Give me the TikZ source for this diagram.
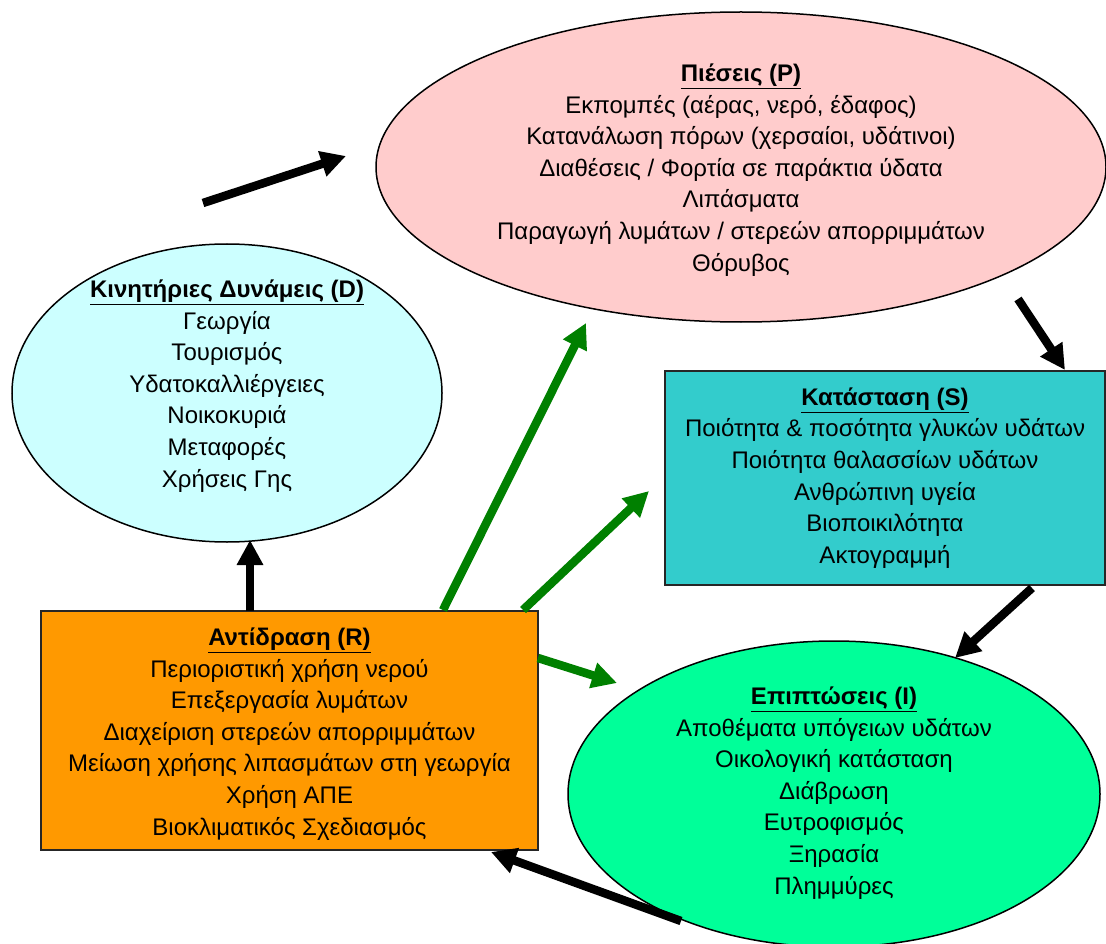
\documentclass[tikz,border=0pt]{standalone}
\usepackage{fontspec}
\setmainfont{Liberation Sans}
\usetikzlibrary{shapes.geometric,arrows.meta}
\definecolor{pcol}{HTML}{FFCCCC}
\definecolor{dcol}{HTML}{CCFFFF}
\definecolor{scol}{HTML}{33CCCC}
\definecolor{rcol}{HTML}{FF9900}
\definecolor{icol}{HTML}{00FF99}
\definecolor{gcol}{HTML}{008000}
\tikzset{
  ellbox/.style={ellipse, draw=black, line width=1.5pt, inner sep=0pt},
  recbox/.style={rectangle, draw=black!85, line width=1.8pt, inner sep=0pt},
  txt/.style={align=center, inner sep=0pt, font={\fontsize{24}{31.6}\selectfont}},
  blackarrow/.style={line width=8.5pt, draw=black, -{Triangle[length=25pt,width=25pt]}},
  greenarrow/.style={line width=8.5pt, draw=gcol, -{Triangle[length=25pt,width=25pt]}}
}
\newcommand{\hd}[1]{\underline{\textbf{#1}}}
\begin{document}
\begin{tikzpicture}[x=1pt,y=-1pt]
\useasboundingbox (0,0) rectangle (1106,944);
% shapes
\node[ellbox, fill=pcol, minimum width=730, minimum height=310] (P) at (741,167) {};
\node[ellbox, fill=dcol, minimum width=430, minimum height=298] (D) at (227,393) {};
\node[recbox, fill=scol, minimum width=440, minimum height=214] (S) at (885,478) {};
\node[recbox, fill=rcol, minimum width=497, minimum height=239] (R) at (289.5,730.5) {};
\node[ellbox, fill=icol, minimum width=532, minimum height=306] (I) at (834,794) {};
% texts
\node[txt] (Pt) at (741,170) {\hd{Πιέσεις (P)}\\Εκπομπές (αέρας, νερό, έδαφος)\\Κατανάλωση πόρων (χερσαίοι, υδάτινοι)\\Διαθέσεις / Φορτία σε παράκτια ύδατα\\Λιπάσματα\\Παραγωγή λυμάτων / στερεών απορριμμάτων\\Θόρυβος};
\node[txt] (Dt) at (227,386) {\hd{Κινητήριες Δυνάμεις (D)}\\Γεωργία\\Τουρισμός\\Υδατοκαλλιέργειες\\Νοικοκυριά\\Μεταφορές\\Χρήσεις Γης};
\node[txt] (St) at (885,478) {\hd{Κατάσταση (S)}\\Ποιότητα \& ποσότητα γλυκών υδάτων\\Ποιότητα θαλασσίων υδάτων\\Ανθρώπινη υγεία\\Βιοποικιλότητα\\Ακτογραμμή};
\node[txt] (Rt) at (289.5,734) {\hd{Αντίδραση (R)}\\Περιοριστική χρήση νερού\\Επεξεργασία λυμάτων\\Διαχείριση στερεών απορριμμάτων\\Μείωση χρήσης λιπασμάτων στη γεωργία\\Χρήση ΑΠΕ\\Βιοκλιματικός Σχεδιασμός};
\node[txt] (It) at (834,793) {\hd{Επιπτώσεις (I)}\\Αποθέματα υπόγειων υδάτων\\Οικολογική κατάσταση\\Διάβρωση\\Ευτροφισμός\\Ξηρασία\\Πλημμύρες};
% arrow end points
\coordinate (dp1) at (203,203); \coordinate (dp2) at (346,156);
\coordinate (ps1) at (1018,299); \coordinate (ps2) at (1065,370);
\coordinate (si1) at (1032,588); \coordinate (si2) at (955,658);
\coordinate (ir1) at (681,921); \coordinate (ir2) at (491,852);
\coordinate (rd1) at (250,611); \coordinate (rd2) at (250,540);
\coordinate (rp1) at (443,610); \coordinate (rp2) at (586,323);
\coordinate (rs1) at (523,610); \coordinate (rs2) at (649,491);
\coordinate (ri1) at (538,658); \coordinate (ri2) at (617,683);
% arrows
\draw[blackarrow] (dp1) -- (dp2);
\draw[blackarrow] (ps1) -- (ps2);
\draw[blackarrow] (si1) -- (si2);
\draw[blackarrow] (ir1) -- (ir2);
\draw[blackarrow] (rd1) -- (rd2);
\draw[greenarrow] (rp1) -- (rp2);
\draw[greenarrow] (rs1) -- (rs2);
\draw[greenarrow] (ri1) -- (ri2);
\end{tikzpicture}
\end{document}
